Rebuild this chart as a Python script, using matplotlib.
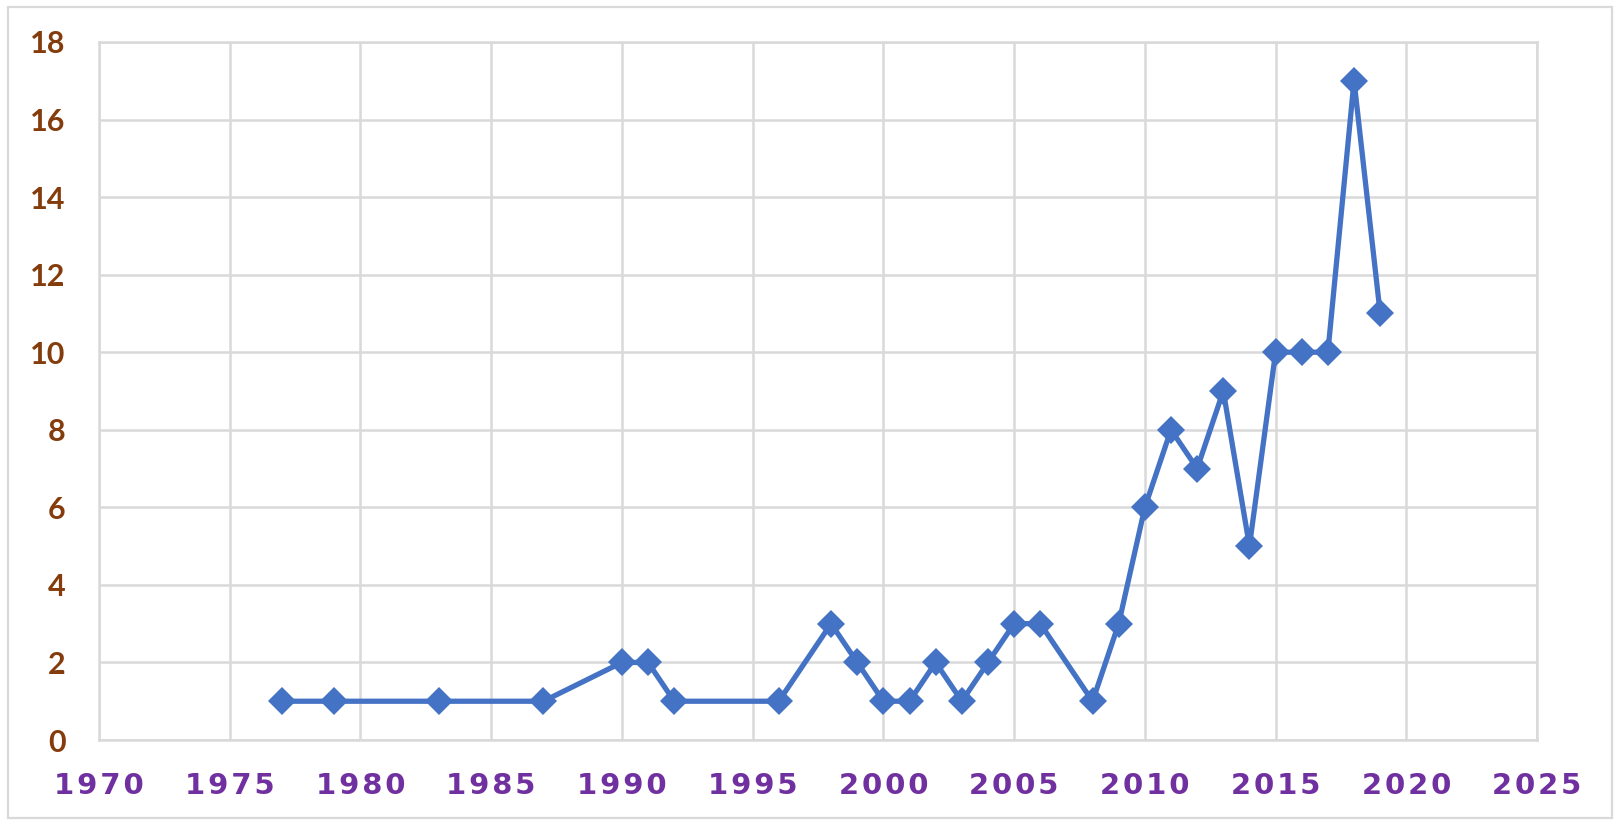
import matplotlib.pyplot as plt
from matplotlib.patches import Rectangle

# data
years = [1977, 1979, 1983, 1987, 1990, 1991, 1992, 1996, 1998, 1999, 2000,
         2001, 2002, 2003, 2004, 2005, 2006, 2008, 2009, 2010, 2011, 2012,
         2013, 2014, 2015, 2016, 2017, 2018, 2019]
counts = [1, 1, 1, 1, 2, 2, 1, 1, 3, 2, 1,
          1, 2, 1, 2, 3, 3, 1, 3, 6, 8, 7,
          9, 5, 10, 10, 10, 17, 11]
x_ticks = list(range(1970, 2030, 5))
y_ticks = list(range(0, 20, 2))

LINE_COLOR = "#4472C4"
GRID_COLOR = "#D9D9D9"

plt.rcParams["font.weight"] = "bold"

fig = plt.figure(figsize=(16.2, 8.26), dpi=100)
ax = fig.add_axes([0.0611, 0.1041, 0.8877, 0.8451])

ax.plot(years, counts, color=LINE_COLOR, linewidth=3.8, marker="D",
        markersize=14, markeredgewidth=0, zorder=3)

ax.set_xlim(1970, 2025)
ax.set_ylim(0, 18)
# x labels are letter-spaced in the original, hair spaces between digits
ax.set_xticks(x_ticks, labels=["\u200a".join(str(y)) for y in x_ticks])
ax.set_yticks(y_ticks)
ax.grid(True, color=GRID_COLOR, linewidth=1.8)
ax.set_axisbelow(True)
for sp in ax.spines.values():
    sp.set_color(GRID_COLOR)
    sp.set_linewidth(1.8)

ax.tick_params(length=0)
ax.tick_params(axis="y", pad=24, labelsize=22, labelcolor="#843C0C",
               labelfontfamily="Lato")
ax.tick_params(axis="x", pad=23, labelsize=21, labelcolor="#7030A0",
               labelfontfamily="DejaVu Sans")

# light frame around the whole chart
fig.patches.append(Rectangle((8 / 1620, 8 / 826), 1604 / 1620, 811 / 826,
                             transform=fig.transFigure, fill=False,
                             edgecolor=GRID_COLOR, linewidth=1.6))

fig.savefig("out.png", dpi=100)
